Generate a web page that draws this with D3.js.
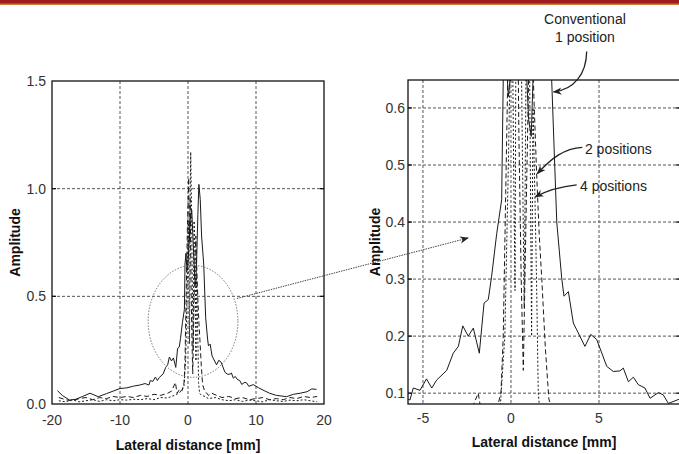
<!DOCTYPE html>
<html>
<head>
<meta charset="utf-8">
<script src="https://cdn.jsdelivr.net/npm/d3@7"></script>
<style>
  body { margin: 0; background: #fff; }
  svg { display: block; font-family: "Liberation Sans", Arial, sans-serif; }
</style>
</head>
<body>
<div id="chart"></div>
<script>
// Conventional (1 position) - solid
const convX = [-19.2, -18.5, -17.4, -16.5, -15.5, -14.4, -13.2, -12, -11, -10, -9, -8, -7.1, -6.3, -5.74, -5.55, -5.17, -4.8, -4.5, -4.22, -3.65, -3.28, -2.99, -2.74, -2.43, -2.14, -1.8, -1.53, -1.29, -1.1, -0.81, -0.53, -0.44, -0.3, -0.15, 0.05, 0.3, 0.55, 0.8, 1.0, 1.15, 1.3, 1.45, 1.6, 1.8, 2.0, 2.31, 2.6, 2.88, 3.01, 3.26, 3.54, 4.2, 4.53, 4.87, 5.44, 5.81, 6.19, 6.38, 6.67, 6.95, 7.23, 7.61, 7.9, 8.37, 8.65, 8.94, 9.6, 10.4, 11.2, 12, 13, 14.5, 15.5, 16.5, 17.5, 18.2, 18.9];
const convY = [0.062, 0.04, 0.018, 0.022, 0.035, 0.05, 0.034, 0.048, 0.06, 0.072, 0.075, 0.083, 0.088, 0.095, 0.088, 0.109, 0.105, 0.125, 0.109, 0.123, 0.14, 0.17, 0.182, 0.218, 0.2, 0.214, 0.17, 0.258, 0.264, 0.305, 0.38, 0.439, 0.65, 0.70, 0.62, 0.68, 0.85, 0.9, 0.72, 0.58, 0.55, 0.7, 0.88, 1.02, 0.95, 0.78, 0.65, 0.4, 0.302, 0.27, 0.278, 0.223, 0.182, 0.203, 0.194, 0.147, 0.138, 0.139, 0.144, 0.12, 0.128, 0.115, 0.109, 0.091, 0.101, 0.097, 0.082, 0.09, 0.075, 0.062, 0.05, 0.04, 0.034, 0.045, 0.05, 0.057, 0.07, 0.068];

// 2 positions - dashed
const pos2X = [-19, -18, -17, -16, -15, -14, -13, -12, -11, -10, -9, -8, -7, -6, -5, -4, -3, -2.4, -1.86, -1.6, -1.2, -0.9, -0.74, -0.57, -0.44, -0.3, -0.1, 0.1, 0.2, 0.32, 0.45, 0.58, 0.7, 0.85, 1.0, 1.15, 1.3, 1.45, 1.6, 1.75, 1.95, 2.15, 2.4, 3, 3.5, 4.2, 5, 6, 7, 8, 9, 10, 11, 12, 13, 14, 15, 16, 17, 18, 19];
const pos2Y = [0.03, 0.02, 0.015, 0.025, 0.03, 0.02, 0.03, 0.025, 0.035, 0.03, 0.035, 0.03, 0.04, 0.035, 0.045, 0.04, 0.05, 0.06, 0.1, 0.05, 0.07, 0.06, 0.08, 0.1, 0.2, 0.45, 0.8, 1.05, 0.75, 0.95, 0.55, 0.3, 0.14, 0.4, 0.65, 0.78, 0.62, 0.49, 0.38, 0.3, 0.18, 0.09, 0.065, 0.04, 0.05, 0.04, 0.03, 0.035, 0.025, 0.03, 0.02, 0.025, 0.03, 0.02, 0.025, 0.02, 0.03, 0.025, 0.035, 0.03, 0.035];

// 4 positions - dotted
const pos4X = [-19, -18, -17, -16, -15, -14, -13, -12, -11, -10, -9, -8, -7, -6, -5, -4, -3, -2, -1.4, -1, -0.6, -0.35, -0.15, 0.05, 0.15, 0.23, 0.3, 0.4, 0.5, 0.62, 0.75, 0.9, 1.05, 1.17, 1.25, 1.36, 1.45, 1.55, 1.7, 2, 2.5, 3, 4, 5, 6, 7, 8, 9, 10, 11, 12, 13, 14, 15, 16, 17, 18, 19];
const pos4Y = [0.015, 0.01, 0.02, 0.01, 0.015, 0.02, 0.012, 0.02, 0.015, 0.02, 0.018, 0.022, 0.02, 0.025, 0.02, 0.03, 0.028, 0.04, 0.05, 0.06, 0.08, 0.2, 0.5, 0.85, 0.5, 0.28, 0.9, 1.17, 0.95, 0.6, 0.25, 0.85, 0.7, 0.2, 0.6, 0.444, 0.3, 0.1, 0.05, 0.04, 0.035, 0.025, 0.03, 0.02, 0.015, 0.02, 0.012, 0.018, 0.015, 0.01, 0.02, 0.015, 0.012, 0.018, 0.015, 0.02, 0.015, 0.01];

// ticks
const leftXTicks = [-20, -10, 0, 10, 20];
const leftYTicks = [0.0, 0.5, 1.0, 1.5];
const rightXTicks = [-5, 0, 5];
const rightYTicks = [0.1, 0.2, 0.3, 0.4, 0.5, 0.6];

const series = [
    {x: convX, y: convY, dash: null},
    {x: pos2X, y: pos2Y, dash: "5,3"},
    {x: pos4X, y: pos4Y, dash: "2,2"}
];

const W = 679, H = 454;
const svg = d3.select("#chart").append("svg")
    .attr("width", W)
    .attr("height", H);

// top banner
svg.append("rect").attr("x", 0).attr("y", 0).attr("width", W).attr("height", 5).attr("fill", "#cf7a35");
svg.append("rect").attr("x", 0).attr("y", 0).attr("width", W).attr("height", 3.5).attr("fill", "#9c1c20");

const panels = [
    {id: "L", left: 52, top: 81, width: 272, height: 323,
     xDomain: [-20, 20], yDomain: [0, 1.5], xTicks: leftXTicks, yTicks: leftYTicks,
     yFmt: d3.format(".1f"), yLabelGap: 6, xLabelY: 425, titleY: 450, ampX: 20},
    {id: "R", left: 408, top: 80, width: 272, height: 324,
     xDomain: [-5.85, 9.6], yDomain: [0.081, 0.649], xTicks: rightXTicks, yTicks: rightYTicks,
     yFmt: d3.format(".1f"), yLabelGap: 3, xLabelY: 423, titleY: 447, ampX: 380}
];

panels.forEach(p => {
    p.x = d3.scaleLinear().domain(p.xDomain).range([p.left, p.left + p.width]);
    p.y = d3.scaleLinear().domain(p.yDomain).range([p.top + p.height, p.top]);

    svg.append("clipPath").attr("id", "clip" + p.id)
        .append("rect")
        .attr("x", p.left).attr("y", p.top)
        .attr("width", p.width).attr("height", p.height);

    const g = svg.append("g");

    // grid
    g.selectAll(".gx").data(p.xTicks.filter(d => d > p.xDomain[0] && d < p.xDomain[1]))
        .enter().append("line")
        .attr("x1", d => p.x(d)).attr("x2", d => p.x(d))
        .attr("y1", p.top).attr("y2", p.top + p.height)
        .attr("stroke", "#555").attr("stroke-width", 1)
        .attr("stroke-dasharray", "3,2");
    g.selectAll(".gy").data(p.yTicks.filter(d => d > p.yDomain[0] && d < p.yDomain[1]))
        .enter().append("line")
        .attr("x1", p.left).attr("x2", p.left + p.width)
        .attr("y1", d => p.y(d)).attr("y2", d => p.y(d))
        .attr("stroke", "#555").attr("stroke-width", 1)
        .attr("stroke-dasharray", "3,2");

    // data lines
    const line = d3.line().x(d => p.x(d[0])).y(d => p.y(d[1]));
    series.forEach(s => {
        const pts = s.x.map((v, i) => [v, s.y[i]]);
        g.append("path")
            .datum(pts)
            .attr("clip-path", "url(#clip" + p.id + ")")
            .attr("d", line)
            .attr("fill", "none")
            .attr("stroke", "#1a1a1a")
            .attr("stroke-width", 1)
            .attr("stroke-dasharray", s.dash);
    });

    // frame
    g.append("rect")
        .attr("x", p.left).attr("y", p.top)
        .attr("width", p.width).attr("height", p.height)
        .attr("fill", "none").attr("stroke", "#111").attr("stroke-width", 1.3);

    // inward ticks
    const yIn = p.yTicks.filter(d => d > p.yDomain[0] && d < p.yDomain[1]);
    g.selectAll(".tyl").data(yIn).enter().append("line")
        .attr("x1", p.left).attr("x2", p.left + 4)
        .attr("y1", d => p.y(d)).attr("y2", d => p.y(d))
        .attr("stroke", "#111").attr("stroke-width", 1.3);
    g.selectAll(".tyr").data(yIn).enter().append("line")
        .attr("x1", p.left + p.width - 4).attr("x2", p.left + p.width)
        .attr("y1", d => p.y(d)).attr("y2", d => p.y(d))
        .attr("stroke", "#111").attr("stroke-width", 1.3);

    // tick labels
    g.selectAll(".ylab").data(p.yTicks).enter().append("text")
        .attr("x", p.left - p.yLabelGap)
        .attr("y", d => p.y(d))
        .attr("dy", "0.35em")
        .attr("text-anchor", "end")
        .attr("font-size", 14)
        .attr("fill", "#333")
        .text(d => p.yFmt(d));
    g.selectAll(".xlab").data(p.xTicks).enter().append("text")
        .attr("x", d => p.x(d))
        .attr("y", p.xLabelY)
        .attr("text-anchor", "middle")
        .attr("font-size", 14)
        .attr("fill", "#333")
        .text(d => d);

    // axis titles
    g.append("text")
        .attr("x", p.left + p.width / 2)
        .attr("y", p.titleY)
        .attr("text-anchor", "middle")
        .attr("font-size", 14)
        .attr("font-weight", "bold")
        .attr("fill", "#111")
        .text("Lateral distance [mm]");
    g.append("text")
        .attr("transform", "translate(" + p.ampX + "," + (p.top + p.height / 2) + ") rotate(-90)")
        .attr("text-anchor", "middle")
        .attr("font-size", 14)
        .attr("font-weight", "bold")
        .attr("fill", "#111")
        .text("Amplitude");
});

const L = panels[0], R = panels[1];

// zoom ellipse on left panel
svg.append("ellipse")
    .attr("cx", L.x(0.74)).attr("cy", L.y(0.384))
    .attr("rx", L.x(6.6) - L.x(0)).attr("ry", L.y(0) - L.y(0.26))
    .attr("fill", "none")
    .attr("stroke", "#666")
    .attr("stroke-width", 0.9)
    .attr("stroke-dasharray", "1.5,1.5");

const defs = svg.append("defs");
defs.append("marker")
    .attr("id", "head")
    .attr("viewBox", "0 0 10 10")
    .attr("refX", 9).attr("refY", 5)
    .attr("markerWidth", 9).attr("markerHeight", 9)
    .attr("markerUnits", "userSpaceOnUse")
    .attr("orient", "auto")
    .append("path")
    .attr("d", "M0,1 L10,5 L0,9 L3,5 Z")
    .attr("fill", "#222");

// connector arrow from ellipse to zoomed panel
svg.append("line")
    .attr("x1", L.x(7.2)).attr("y1", L.y(0.49))
    .attr("x2", R.x(-2.44)).attr("y2", R.y(0.372))
    .attr("stroke", "#444")
    .attr("stroke-width", 1)
    .attr("stroke-dasharray", "1.5,1")
    .attr("marker-end", "url(#head)");

// annotations (positions in right-panel data units)
const notes = [
    {lines: ["Conventional", "1 position"], tx: 4.2, ty: [0.747, 0.715], anchor: "middle",
     path: [[4.3, 0.699], [4.28, 0.66], [3.6, 0.632], [2.42, 0.628]]},
    {lines: ["2 positions"], tx: 4.2, ty: [0.519], anchor: "start",
     path: [[4.05, 0.531], [3.0, 0.529], [2.3, 0.512], [1.5, 0.485]]},
    {lines: ["4 positions"], tx: 3.92, ty: [0.454], anchor: "start",
     path: [[3.73, 0.465], [2.8, 0.462], [2.1, 0.456], [1.38, 0.444]]}
];

notes.forEach(n => {
    n.lines.forEach((t, i) => {
        svg.append("text")
            .attr("x", R.x(n.tx))
            .attr("y", R.y(n.ty[i]))
            .attr("text-anchor", n.anchor)
            .attr("font-size", 14)
            .attr("fill", "#222")
            .text(t);
    });
    const c = n.path.map(d => [R.x(d[0]), R.y(d[1])]);
    svg.append("path")
        .attr("d", "M" + c[0] + " C" + c[1] + " " + c[2] + " " + c[3])
        .attr("fill", "none")
        .attr("stroke", "#222")
        .attr("stroke-width", 1.3)
        .attr("marker-end", "url(#head)");
});
</script>
</body>
</html>
